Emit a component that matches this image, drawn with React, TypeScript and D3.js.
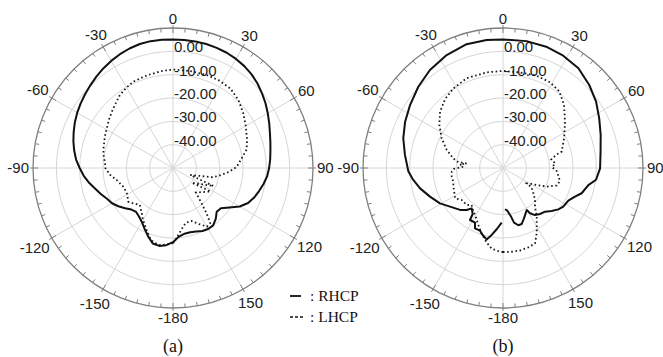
import React from 'react';
import * as d3 from 'd3';

// ---------- data (angle in degrees clockwise from top, gain in dB) ----------
const ringValues = [-40, -30, -20, -10, 0];
const ringLabels = ['-40.00', '-30.00', '-20.00', '-10.00', '0.00'];
const angleTicks = [0, 30, 60, 90, 120, 150, 180, -150, -120, -90, -60, -30];
const angleLabels = ['0', '30', '60', '90', '120', '150', '-180', '-150', '-120', '-90', '-60', '-30'];
const panelNames = ['(a)', '(b)'];
const legendNames = [': RHCP', ': LHCP'];

const rhcpA: [number, number][] = [
  [-180, -18.2], [-175, -16.8], [-170, -16.1], [-165, -16.5], [-160, -18.8], [-155, -21.2],
  [-150, -23.3], [-145, -24.6], [-140, -25.4], [-135, -24.8], [-130, -23.2], [-125, -21.4],
  [-120, -19.8], [-115, -18.8], [-110, -17.2], [-105, -15.5], [-100, -13.5], [-95, -11.6],
  [-90, -10.0], [-85, -8.3], [-80, -7.0], [-75, -5.8], [-70, -4.7], [-65, -3.6], [-60, -2.6],
  [-55, -1.7], [-50, -0.8], [-45, 0.1], [-40, 1.1], [-35, 2.1], [-30, 3.0], [-25, 3.8],
  [-20, 4.5], [-15, 5.0], [-10, 5.2], [-5, 5.2], [0, 5.1], [5, 5.1], [10, 5.1], [15, 5.0],
  [20, 4.8], [25, 4.5], [30, 4.0], [35, 3.3], [40, 2.4], [45, 1.2], [50, -0.2], [55, -1.6],
  [60, -3.1], [65, -4.5], [70, -5.8], [75, -6.8], [80, -7.6], [85, -8.2], [90, -8.8],
  [95, -9.5], [100, -10.6], [105, -11.8], [110, -13.0], [115, -14.5], [120, -17.0],
  [125, -20.5], [130, -23.2], [135, -23.5], [140, -21.5], [145, -20.0], [150, -19.8],
  [155, -20.2], [160, -21.0], [165, -21.5], [170, -21.4], [175, -20.5],
];

const lhcpA: [number, number][] = [
  [-180, -17.8], [-175, -17.0], [-170, -16.5], [-165, -17.2], [-162, -18.3], [-157, -21.1],
  [-150, -24.3], [-144, -27.0], [-138, -28.7], [-132, -27.3], [-127, -26.0], [-123, -26.8],
  [-119, -27.4], [-111, -27.3], [-102, -25.3], [-96, -22.8], [-90, -21.0], [-86, -20.8],
  [-80, -19.8], [-75, -19.1], [-70, -18.6], [-65, -17.8], [-59, -16.9], [-53, -15.6],
  [-47, -14.3], [-41, -12.8], [-36, -11.3], [-30, -10.2], [-25, -9.3], [-19, -9.0],
  [-14, -8.7], [-6, -8.1], [0, -7.8], [10, -7.8], [20, -7.6], [28, -7.6], [36, -8.0],
  [44, -9.6], [52, -11.8], [60, -14.0], [69, -16.0], [76, -17.5], [82, -20.3], [89, -22.7],
  [94, -26.0], [98, -29.0], [103, -32.3], [112, -42.0], [114, -31.0], [128, -39.8],
  [122, -31.0], [137, -35.6], [141, -30.5], [143.5, -25.8], [146, -21.5], [150, -21.0],
  [155, -23.5], [161, -26.0], [167, -25.8], [172, -23.5], [177, -20.0],
];

const rhcpB: [number, number][] = [
  [-178.6, -26.6], [-174.1, -23.6], [-170.4, -20.9], [-167.1, -18.6], [-163.1, -20.0],
  [-159.8, -21.4], [-155.1, -21.5], [-152.9, -23.7], [-147.6, -23.6], [-146.6, -26.4],
  [-142.2, -28.1], [-139.1, -26.2], [-134.3, -24.3], [-126.1, -21.9], [-119.3, -19.0],
  [-111.4, -16.4], [-103.8, -13.4], [-97, -11.0], [-92, -9.4], [-82.4, -7.6], [-73.4, -5.4],
  [-64.7, -3.6], [-55.9, -1.9], [-46.2, 0.3], [-36.7, 2.4], [-26.5, 4.1], [-16.4, 5.3],
  [-7.3, 5.3], [0, 5.1], [10.5, 5.3], [19.6, 5.2], [28.2, 4.6], [37.1, 3.6], [46.1, 1.3],
  [54.5, -1.0], [62.7, -3.6], [71.3, -5.8], [80.5, -7.6], [90.2, -8.4], [97.2, -9.8],
  [101.3, -12.7], [107.8, -14.6], [111.7, -16.8], [116.6, -18.7], [122.7, -19.3],
  [126.8, -20.4], [131.5, -22.2], [136.1, -24.0], [141.2, -24.7], [145.8, -25.6],
  [149.2, -27.4], [150.6, -29.3], [157.4, -26.6], [161.6, -24.7], [165, -24.6],
  [168.6, -26.1], [170.9, -29.2], [174.2, -31.6], [177.2, -32.3],
];

const lhcpB: [number, number][] = [
  [-180, -14.0], [-177.9, -14.1], [-172, -15.1], [-167.7, -17.3], [-162.1, -20.3],
  [-156.6, -23.4], [-149.2, -26.6], [-145.8, -27.4], [-139.7, -29.2], [-135.5, -27.8],
  [-127.7, -27.6], [-122.3, -25.7], [-120.8, -26.0], [-110.6, -27.3], [-105.4, -27.9],
  [-99.6, -27.7], [-94.1, -28.0], [-91, -29.0], [-88, -33.0], [-85, -31.5], [-83, -34.3],
  [-82, -30.0], [-79, -28.3], [-72.3, -24.7], [-64.2, -20.8], [-56, -17.1], [-48.2, -13.8],
  [-40, -11.4], [-32, -9.8], [-22, -8.5], [-9.7, -8.4], [0, -8.4], [10.1, -8.4], [20, -7.9],
  [28.7, -8.1], [36.4, -9.3], [44.1, -12.4], [53.2, -16.8], [64.1, -20.9], [74.4, -23.9],
  [76, -26.5], [80, -29.0], [85, -27.5], [89, -29.0], [93, -27.0], [98, -26.0], [103, -25.0],
  [108, -25.7], [113, -29.6], [117, -33.9], [121, -37.3], [123, -37.9], [124, -35.3],
  [129.9, -33.0], [135, -30.6], [140.4, -28.5], [145.3, -24.6], [149.4, -21.6],
  [152.7, -18.5], [157, -14.9], [162.3, -14.3], [168.4, -13.9], [175.2, -13.9],
];

// ---------- layout ----------
const W = 663;
const H = 357;
const R = 140;
const centers = [
  { cx: 173, cy: 168 },
  { cx: 503, cy: 168 },
];
const gridColor = '#d6d6d6';
const axisColor = '#808080';
const labelFont = "'Liberation Sans', Arial, sans-serif";
const serifFont = "'Liberation Serif', 'Times New Roman', serif";

const rScale = d3.scaleLinear().domain([-50, 10]).range([0, R]);
const toRad = (deg: number) => (deg * Math.PI) / 180;

const lineClosed = d3
  .lineRadial<[number, number]>()
  .angle((d) => toRad(d[0]))
  .radius((d) => rScale(d[1]))
  .curve(d3.curveLinearClosed);
const lineOpen = d3
  .lineRadial<[number, number]>()
  .angle((d) => toRad(d[0]))
  .radius((d) => rScale(d[1]))
  .curve(d3.curveLinear);

function textWidth(s: string) {
  let w = 0;
  for (const ch of s) w += ch === '-' ? 5 : ch === '.' ? 4.2 : 8.34;
  return w;
}

function PolarPanel({ cx, cy, rhcp, lhcp, closeR, name }: any) {
  const minorTicks = d3.range(0, 360, 5);
  return (
    <g transform={`translate(${cx},${cy})`}>
      {/* rings */}
      {ringValues.map((v) => (
        <circle key={v} r={rScale(v)} fill="none" stroke={gridColor} strokeWidth={1} />
      ))}
      {/* spokes */}
      {d3.range(0, 360, 30).map((a) => (
        <line
          key={a}
          x1={0}
          y1={0}
          x2={R * Math.sin(toRad(a))}
          y2={-R * Math.cos(toRad(a))}
          stroke={gridColor}
          strokeWidth={1}
        />
      ))}
      {/* outer circle */}
      <circle r={R} fill="none" stroke={axisColor} strokeWidth={1.3} />
      {minorTicks.map((a) => {
        const major = a % 30 === 0;
        const r1 = major ? R - 5 : R - 4;
        const r2 = major ? R + 3 : R;
        const s = Math.sin(toRad(a));
        const c = Math.cos(toRad(a));
        return (
          <line key={a} x1={r1 * s} y1={-r1 * c} x2={r2 * s} y2={-r2 * c} stroke={axisColor} strokeWidth={1} />
        );
      })}
      {/* angle labels */}
      {angleTicks.map((a, i) => {
        const s = Math.sin(toRad(a));
        const c = Math.cos(toRad(a));
        const w = textWidth(angleLabels[i]);
        const rr = R + 4 + Math.abs(s) * (w / 2) + Math.abs(c) * 5.5;
        return (
          <text
            key={a}
            x={rr * s}
            y={-rr * c + 5.3}
            textAnchor="middle"
            fontFamily={labelFont}
            fontSize={15}
            fill="#222"
          >
            {angleLabels[i]}
          </text>
        );
      })}
      {/* ring labels */}
      {ringValues.map((v, i) => (
        <text key={v} x={1} y={-rScale(v) + 1} fontFamily={labelFont} fontSize={15} fill="#222">
          {ringLabels[i]}
        </text>
      ))}
      {/* curves */}
      <path d={lhcp ? lineClosed(lhcp) || '' : ''} fill="none" stroke="#1a1a1a" strokeWidth={1.8} strokeDasharray="1.6 2.6" />
      <path d={(closeR ? lineClosed(rhcp) : lineOpen(rhcp)) || ''} fill="none" stroke="#111" strokeWidth={2} strokeLinejoin="round" />
      {/* panel name */}
      <text x={0} y={352 - cy} textAnchor="middle" fontFamily={serifFont} fontSize={18} fill="#111">
        {name}
      </text>
    </g>
  );
}

export default function App() {
  return (
    <svg
      width={W}
      height={H}
      viewBox={`0 0 ${W} ${H}`}
      style={{ position: 'absolute', left: 0, top: 0, background: '#fff' }}
    >
      <rect x={0} y={0} width={W} height={H} fill="#fff" />
      <PolarPanel cx={centers[0].cx} cy={centers[0].cy} rhcp={rhcpA} lhcp={lhcpA} closeR={true} name={panelNames[0]} />
      <PolarPanel cx={centers[1].cx} cy={centers[1].cy} rhcp={rhcpB} lhcp={lhcpB} closeR={false} name={panelNames[1]} />
      {/* legend */}
      <line x1={290} x2={301} y1={296} y2={296} stroke="#111" strokeWidth={1.8} />
      <line x1={290} x2={305} y1={317} y2={317} stroke="#111" strokeWidth={1.5} strokeDasharray="3 2" />
      <text x={310} y={301} fontFamily={serifFont} fontSize={15.5} fill="#111">
        {legendNames[0]}
      </text>
      <text x={310} y={322} fontFamily={serifFont} fontSize={15.5} fill="#111">
        {legendNames[1]}
      </text>
    </svg>
  );
}
